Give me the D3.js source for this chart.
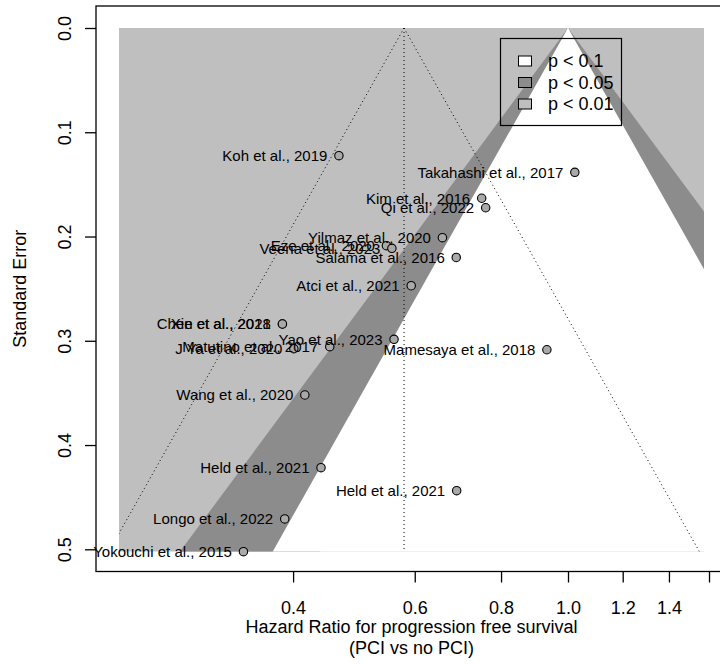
<!DOCTYPE html>
<html>
<head>
<meta charset="utf-8">
<script src="https://cdn.jsdelivr.net/npm/d3@7"></script>
<style>
  html, body { margin: 0; padding: 0; background: #fff; }
  svg { display: block; font-family: "Liberation Sans", Arial, Helvetica, sans-serif; }
</style>
</head>
<body>
<svg id="chart" width="720" height="664"></svg>
<script>
// Study labels, hazard ratios and standard errors
const studies = [
  "Koh et al., 2019", "Takahashi et al., 2017", "Kim et al., 2016", "Qi et al., 2022",
  "Yilmaz et al., 2020", "Eze et al., 2020", "Veena et al., 2023", "Salama et al., 2016",
  "Atci et al., 2021", "Chen et al., 2021", "Xie et al., 2018", "Yao et al., 2023",
  "J Ya et al., 2020", "Matutino et al., 2017", "Mamesaya et al., 2018", "Wang et al., 2020",
  "Held et al., 2021", "Held et al., 2021", "Longo et al., 2022", "Yokouchi et al., 2015"
];
const hazardRatio = [
  0.466, 1.023, 0.750, 0.760,
  0.658, 0.546, 0.556, 0.689,
  0.593, 0.386, 0.386, 0.560,
  0.401, 0.452, 0.932, 0.416,
  0.439, 0.690, 0.389, 0.339
];
const stdError = [
  0.1225, 0.1384, 0.1633, 0.1724,
  0.2011, 0.2088, 0.2113, 0.2201,
  0.2472, 0.2839, 0.2839, 0.2986,
  0.3076, 0.3057, 0.3086, 0.3520,
  0.4217, 0.4438, 0.4709, 0.5023
];
// pooled estimate (HR) and the funnel's x-limits on the HR scale
const pooledHR = 0.579;
const xLimits = [0.2239, 1.5735];
// significance contours: two-sided p levels, z-values and legend text
const contourLevels = ["p < 0.1", "p < 0.05", "p < 0.01"];
const contourZ = [1.645, 1.96, 2.576];
const xTickValues = [0.4, 0.6, 0.8, 1.0, 1.2, 1.4, 1.6];
const xTickLabels = ["0.4", "0.6", "0.8", "1.0", "1.2", "1.4", ""];
const yTickValues = [0, 0.1, 0.2, 0.3, 0.4, 0.5];
const yTickLabels = ["0.0", "0.1", "0.2", "0.3", "0.4", "0.5"];

const svg = d3.select("#chart");
const contourFill = ["#ffffff", "#8c8c8c", "#bfbfbf"];

const seMax = d3.max(stdError);
const x = d3.scaleLog().domain(xLimits).range([119, 704]);
const y = d3.scaleLinear().domain([0, 0.5]).range([28, 549.3]);

// plotting region (with R-style 4% padding) and the funnel area
const frame = { left: 96, right: 727, top: 6, bottom: 571.5 };
const area = { x0: x(xLimits[0]), x1: x(xLimits[1]), y0: y(0), y1: y(seMax) };

svg.append("clipPath").attr("id", "funnel-clip")
  .append("rect")
  .attr("x", area.x0).attr("y", area.y0)
  .attr("width", area.x1 - area.x0).attr("height", area.y1 - area.y0);

const g = svg.append("g").attr("clip-path", "url(#funnel-clip)");

// background beyond the outermost contour
g.append("rect")
  .attr("x", area.x0).attr("y", area.y0)
  .attr("width", area.x1 - area.x0).attr("height", area.y1 - area.y0)
  .attr("fill", contourFill[2]);

// contour wedges around HR = 1, widest first
const wedge = z => {
  const pts = [[Math.exp(-z * seMax), seMax], [1, 0], [Math.exp(z * seMax), seMax]];
  return d3.line().x(d => x(d[0])).y(d => y(d[1]))(pts) + "Z";
};
g.append("path").attr("d", wedge(contourZ[2])).attr("fill", contourFill[1]);
g.append("path").attr("d", wedge(contourZ[1])).attr("fill", contourFill[0]);
g.append("path").attr("d", wedge(contourZ[0])).attr("fill", contourFill[0]);

// pseudo confidence funnel around the pooled estimate
const lnP = Math.log(pooledHR);
const dotted = { stroke: "#000", "stroke-width": 1, "stroke-dasharray": "1,3", fill: "none" };
const funnelLines = [
  [[pooledHR, 0], [pooledHR, seMax]],
  [[pooledHR, 0], [Math.exp(lnP - 1.96 * seMax), seMax]],
  [[pooledHR, 0], [Math.exp(lnP + 1.96 * seMax), seMax]]
];
funnelLines.forEach(l => {
  const p = g.append("path").attr("d", d3.line().x(d => x(d[0])).y(d => y(d[1]))(l));
  Object.entries(dotted).forEach(([k, v]) => p.attr(k, v));
});

// frame
svg.append("rect")
  .attr("x", frame.left).attr("y", frame.top)
  .attr("width", frame.right - frame.left).attr("height", frame.bottom - frame.top)
  .attr("fill", "none").attr("stroke", "#000").attr("stroke-width", 1.3);

// axes
const xAxis = d3.axisBottom(x).tickValues(xTickValues)
  .tickFormat((d, i) => xTickLabels[i]).tickSize(11).tickPadding(19);
const gx = svg.append("g").attr("transform", `translate(0,${frame.bottom})`).call(xAxis);
gx.select(".domain").remove();
gx.selectAll("line").attr("stroke-width", 1.3);
gx.selectAll("text").attr("font-size", 18).attr("fill", "#000");

const yAxis = d3.axisLeft(y).tickValues(yTickValues)
  .tickFormat((d, i) => yTickLabels[i]).tickSize(11).tickPadding(0);
const gy = svg.append("g").attr("transform", `translate(${frame.left},0)`).call(yAxis);
gy.select(".domain").remove();
gy.selectAll("line").attr("stroke-width", 1.3);
gy.selectAll("text").remove();
gy.selectAll(".tick").append("text")
  .attr("transform", "translate(-25,0) rotate(-90)")
  .attr("text-anchor", "middle")
  .attr("font-size", 18).attr("fill", "#000")
  .text((d, i) => yTickLabels[i]);

// axis titles
const midX = (frame.left + frame.right) / 2;
svg.append("text").attr("x", midX).attr("y", 633).attr("text-anchor", "middle")
  .attr("font-size", 18).text("Hazard Ratio for progression free survival");
svg.append("text").attr("x", midX).attr("y", 654).attr("text-anchor", "middle")
  .attr("font-size", 18).text("(PCI vs no PCI)");
svg.append("text")
  .attr("transform", `translate(26,${(frame.top + frame.bottom) / 2}) rotate(-90)`)
  .attr("text-anchor", "middle").attr("font-size", 18).text("Standard Error");

// studies
const data = studies.map((s, i) => ({ name: s, hr: hazardRatio[i], se: stdError[i] }));
const pts = svg.append("g");
pts.selectAll("circle").data(data).join("circle")
  .attr("cx", d => x(d.hr)).attr("cy", d => y(d.se)).attr("r", 4.2)
  .attr("fill", "#a9a9a9").attr("stroke", "#000").attr("stroke-width", 1.1);
pts.selectAll("text").data(data).join("text")
  .attr("x", d => x(d.hr) - 11.5).attr("y", d => y(d.se)).attr("dy", "0.35em")
  .attr("text-anchor", "end").attr("font-size", 15).text(d => d.name);

// legend
const lg = svg.append("g");
lg.append("rect").attr("x", 500.5).attr("y", 38.5).attr("width", 121).attr("height", 87)
  .attr("fill", "none").attr("stroke", "#000").attr("stroke-width", 1.2);
contourLevels.forEach((lab, i) => {
  const cy = 61 + i * 21.5;
  lg.append("rect").attr("x", 518.5).attr("y", cy - 5).attr("width", 13).attr("height", 10)
    .attr("fill", contourFill[i]).attr("stroke", "#000").attr("stroke-width", 1);
  lg.append("text").attr("x", 548).attr("y", cy).attr("dy", "0.35em")
    .attr("font-size", 18).text(lab);
});
</script>
</body>
</html>
